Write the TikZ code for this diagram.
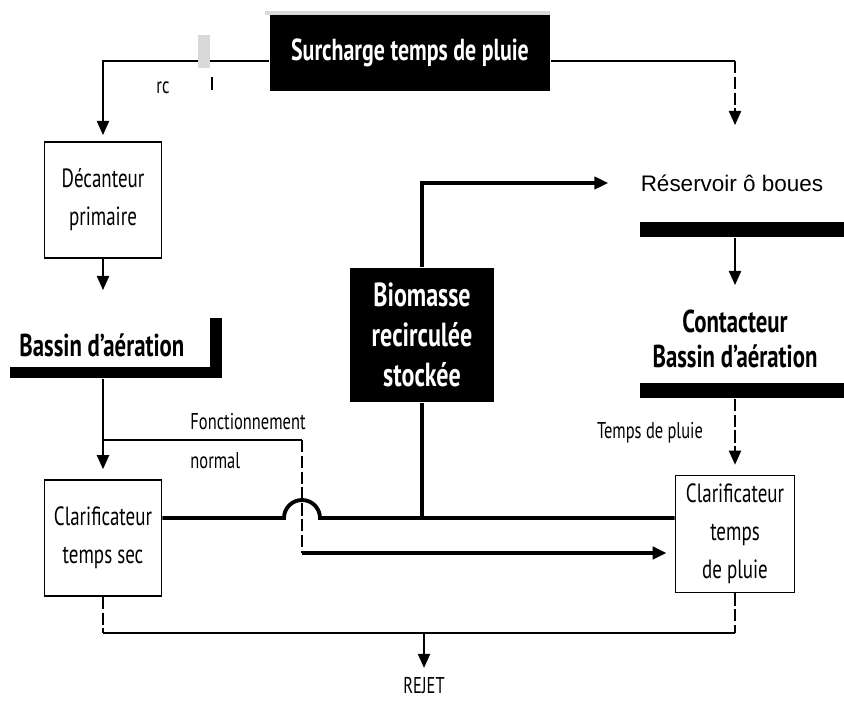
\documentclass[tikz,border=0pt]{standalone}
\usepackage{fontspec}
\setmainfont[FakeStretch=0.72]{PT Sans}
\newfontfamily\resfont{Liberation Sans}
\usetikzlibrary{arrows.meta,calc}

\begin{document}
\begin{tikzpicture}
[x=0.02cm,y=-0.02cm,line width=0.8pt,
 every node/.style={inner sep=1pt},
 box/.style={draw,line width=1pt,minimum width=2.34cm,minimum height=2.32cm,align=center,
   font=\fontsize{15}{21.5}\selectfont},
 bar/.style={fill=black,inner sep=0pt},
 title/.style={font=\fontsize{18}{19.5}\selectfont\bfseries,align=center},
 small/.style={font=\fontsize{13}{22}\selectfont,align=left},
 tip/.style={-{Triangle[width=7pt,length=8pt]}},
 flow/.style={line width=2.2pt},
 dashline/.style={dash pattern=on 7pt off 2pt}]
\useasboundingbox (0,0) rectangle (844,702);

\node[fill=black,minimum width=5.6cm,minimum height=1.54cm,text=white,
  font=\fontsize{17.3}{18}\selectfont\bfseries] (surch) at (410,53) {Surcharge temps de pluie};
\node[box] (dec) at (103,200) {Décanteur\\primaire};
\node[title,anchor=west] (bassin) at (17,345) {Bassin d'aération};
\node[bar,minimum width=4.24cm,minimum height=0.22cm] (barL) at (116,372.5) {};
\node[bar,minimum width=0.24cm,minimum height=1.2cm] (barLv) at (216,348) {};
\node[box] (sec) at (103,538) {Clarificateur\\temps sec};
\node[small,anchor=west] (fonct) at (188,441) {Fonctionnement\\normal};
\node[fill=black,minimum width=2.9cm,minimum height=2.7cm,text=white,align=center,
  font=\fontsize{19}{22.7}\selectfont\bfseries] (bio) at (422,335) {Biomasse\\recirculée\\stockée};
\node[font=\resfont\fontsize{12.8}{14}\selectfont] (res) at (732,183) {Réservoir ô boues};
\node[bar,minimum width=4.08cm,minimum height=0.3cm] (barR1) at (742,229.5) {};
\node[title] (cont) at (735,339) {Contacteur\\Bassin d'aération};
\node[bar,minimum width=4.08cm,minimum height=0.3cm] (barR2) at (742,390.5) {};
\node[small] (tpluie) at (650,433) {Temps de pluie};
\node[box,minimum width=2.38cm,minimum height=2.34cm] (pluie) at (735,534) {Clarificateur\\temps\\de pluie};
\node[small,font=\fontsize{13}{15}\selectfont] (rejet) at (424,686) {REJET};

\coordinate (decin) at (103,135);
\coordinate (resin) at (735,125);
\coordinate (bassinin) at (103,290);
\coordinate (contin) at (735,285);
\coordinate (split) at (103,440);
\coordinate (cross) at (302,440);
\coordinate (jn) at (422,518);
\coordinate (rj) at (424,633);

\draw[tip] ([yshift=-0.16cm]surch.west) -| (decin);
\draw ([yshift=-0.16cm]surch.east) -- ([yshift=-0.16cm]surch.east -| resin);
\draw[dashline,tip] ([yshift=-0.16cm]surch.east -| resin) -- (resin);
\draw[tip] (dec.south) -- (bassinin);
\draw[tip,shorten >=0.2cm] (sec.north |- barL.south) -- (sec.north);
\draw (split) -- (cross);
\draw[dashline] (cross) -- (cross |- 0,553);
\draw[flow,tip,shorten >=0.16cm] (cross |- 0,553) -- (pluie.west |- 0,553);
\draw[flow] (sec.east |- jn) -- (284,518) arc[start angle=180,end angle=0,radius=0.36cm]
  -- (pluie.west |- jn);
\draw[flow] (jn) -- (bio.south);
\draw[flow,tip,shorten >=0.6cm] (bio.north) |- (res.west);
\draw[tip] (barR1.south -| resin) -- (contin);
\draw[dashline,tip,shorten >=0.2cm] (barR2.south -| resin) -- (pluie.north);
\draw[dashline] (sec.south) -- (sec.south |- rj);
\draw[dashline] (pluie.south) -- (pluie.south |- rj);
\draw (sec.south |- rj) -- (pluie.south |- rj);
\draw[tip,shorten >=0.15cm] (rj) -- (rejet.north);

\fill[black!15] (265,11) rectangle (550,15);
\fill[black!15] (198,35) rectangle (210,68);
\node[small] (rc) at (163,88) {rc};
\draw (212,77) -- (212,90);
\end{tikzpicture}
\end{document}
